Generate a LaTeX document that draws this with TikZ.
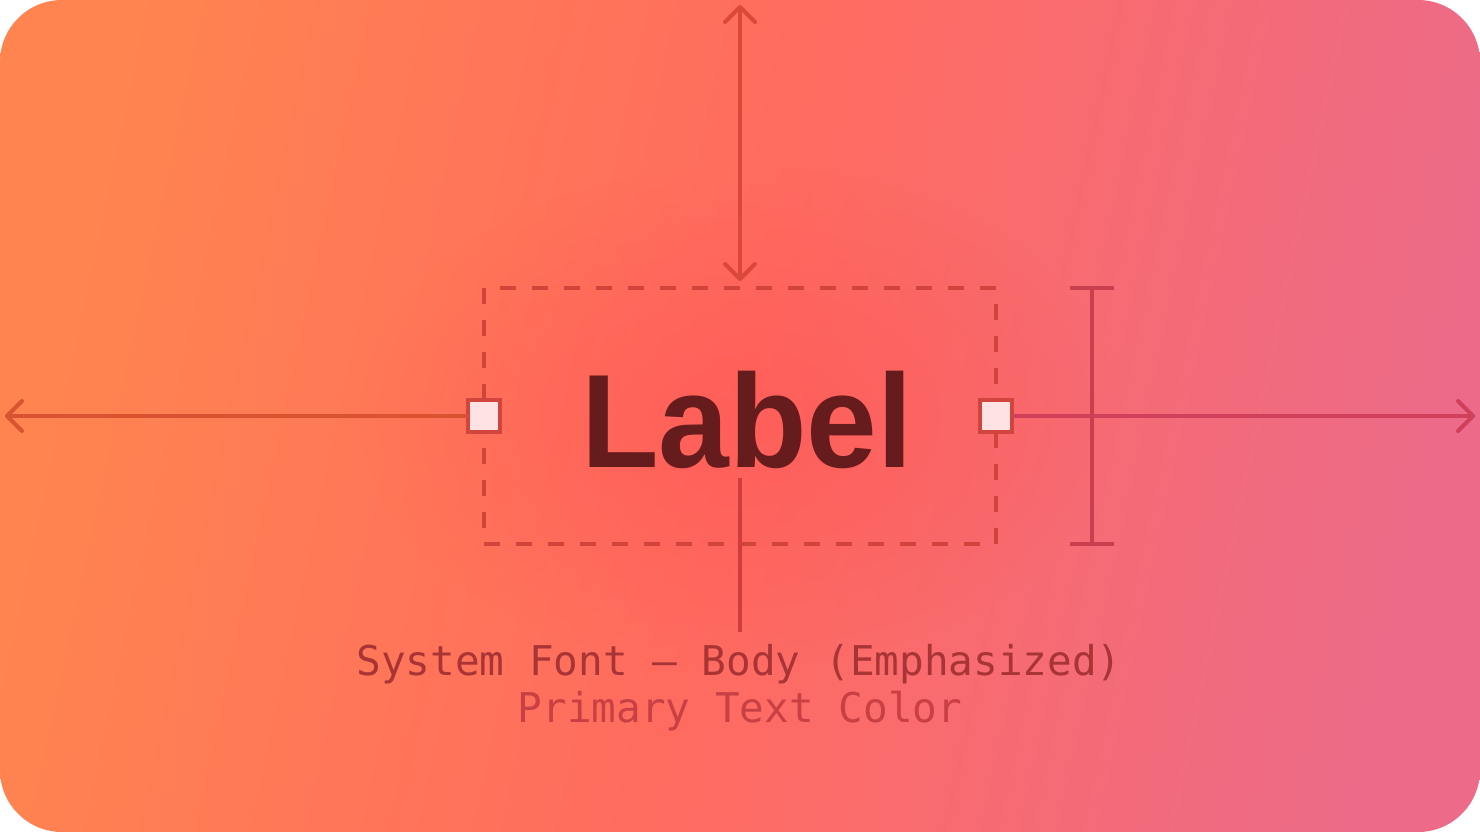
\documentclass[tikz,border=0pt]{standalone}
\usepackage{fontspec}
\setmainfont{Liberation Sans}
\newfontfamily\monofont{DejaVu Sans Mono}
\usetikzlibrary{arrows.meta,fadings}
\definecolor{bgA}{HTML}{FF8450}
\definecolor{bgB}{HTML}{FF6B5F}
\definecolor{bgC}{HTML}{ED6B88}
\definecolor{glowred}{HTML}{FF5656}
\definecolor{boxcol}{HTML}{D0443C}
\definecolor{sqcol}{HTML}{D2453F}
\definecolor{sqfill}{HTML}{FFE2E2}
\definecolor{arrL}{HTML}{DA5230}
\definecolor{arrT}{HTML}{DB4839}
\definecolor{arrR}{HTML}{D0405A}
\definecolor{brcol}{HTML}{C84050}
\definecolor{botcol}{HTML}{D03D3D}
\definecolor{labcol}{HTML}{661C1C}
\definecolor{txtA}{HTML}{A93436}
\definecolor{txtB}{HTML}{C94044}
\tikzfading[name=glowfade, inner color=transparent!40, outer color=transparent!100]
\tikzset{
  guide/.style={line width=4pt, line cap=round},
  tip/.style={-{Straight Barb[round,length=15pt,width=30pt]}},
  sq/.style={draw=sqcol, fill=sqfill, line width=4pt, minimum size=32pt, inner sep=0pt},
}
\begin{document}
\begin{tikzpicture}[x=1pt,y=-1pt]
\useasboundingbox (0,0) rectangle (1480,832);
\shade[rounded corners=62pt, top color=bgA, bottom color=bgC, middle color=bgB, shading angle=78] (0,0) rectangle (1480,832);
\fill[glowred, path fading=glowfade] (740,416) ellipse [x radius=380, y radius=250];
% dashed box
\node[draw=boxcol, dash pattern=on 16pt off 16pt, line width=4pt, minimum width=512pt, minimum height=256pt, inner sep=0pt, outer sep=0pt] (box) at (740,416) {};
% coordinates
\coordinate (topend) at (740,5);
\coordinate (topin) at (740,281);
\coordinate (leftend) at (5,416);
\coordinate (rightend) at (1475,416);
\coordinate (brtop) at (1092,288);
\coordinate (brbot) at (1092,544);
\coordinate (botA) at (740,478);
\coordinate (botB) at (740,632);
% top arrow
\draw[guide, draw=arrT, {Straight Barb[round,length=15pt,width=30pt]}-{Straight Barb[round,length=15pt,width=30pt]}] (topend) -- (topin);
% squares
\node[sq] (sqL) at (box.west) {};
\node[sq] (sqR) at (box.east) {};
% side arrows
\draw[guide, draw=arrL, tip] (sqL.west) -- (leftend);
\draw[guide, draw=arrR, tip] (sqR.east) -- (rightend);
% bracket
\draw[line width=4pt, draw=brcol] (brtop) -- (brbot);
\draw[line width=4pt, draw=brcol] ([xshift=-22pt]brtop) -- ([xshift=22pt]brtop);
\draw[line width=4pt, draw=brcol] ([xshift=-22pt]brbot) -- ([xshift=22pt]brbot);
% bottom line
\draw[line width=4pt, draw=botcol] (botA) -- (botB);
% label
\node[anchor=base, text=labcol, inner sep=0pt] (label) at (747,467) {\scalebox{0.955}[1]{\fontsize{133}{140}\selectfont\bfseries Label}};
\node[anchor=base, text=txtA, inner sep=0pt] (t1) at (739,675) {\monofont\fontsize{41}{48}\selectfont System Font — Body (Emphasized)};
\node[anchor=base, text=txtB, inner sep=0pt] (t2) at (740,722) {\monofont\fontsize{41}{48}\selectfont Primary Text Color};
\end{tikzpicture}
\end{document}
